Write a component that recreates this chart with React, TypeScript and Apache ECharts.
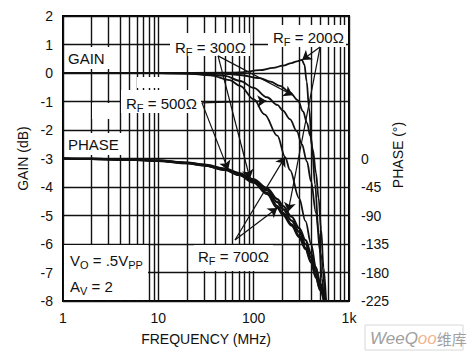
import React, { useEffect, useRef } from 'react';
import * as echarts from 'echarts';

// ---- axes ----
const freqMin = 1;
const freqMax = 1000;
const freqLabels: Record<number, string> = { 1: '1', 10: '10', 100: '100', 1000: '1k' };
const minorFreqLines = [2, 3, 4, 5, 6, 7, 8, 9, 20, 30, 40, 50, 60, 70, 80, 90, 200, 300, 400, 500, 600, 700, 800, 900];
const gainMin = -8;
const gainMax = 2;
const phaseMin = -225;
const phaseMax = 225;

// ---- gain curves (MHz, dB) ----
const gain200 = [[1, 0], [10, 0], [50, 0.01], [72, 0.02], [116, 0.1], [160, 0.18], [203, 0.26], [250, 0.35], [284, 0.41], [320, 0.46], [340, 0.3], [360, -0.3], [380, -1.2], [410, -2.6], [440, -3.9], [480, -5.6], [520, -7.2], [545, -8]];
const gain300 = [[1, 0], [10, 0], [30, -0.01], [50, -0.03], [72, -0.07], [116, -0.18], [150, -0.3], [189, -0.45], [240, -0.68], [290, -0.95], [330, -1.35], [362, -1.75], [392, -2.2], [418, -2.7], [450, -3.5], [480, -4.4], [510, -5.5], [540, -6.8], [575, -8]];
const gain500 = [[1, 0], [10, 0], [30, -0.03], [50, -0.1], [72, -0.28], [100, -0.52], [138, -0.85], [177, -1.12], [203, -1.32], [240, -1.62], [284, -2.05], [320, -2.5], [362, -3.1], [400, -3.8], [450, -4.9], [500, -6.3], [565, -8]];
const gain700 = [[1, 0], [10, 0], [20, -0.02], [35, -0.08], [56, -0.25], [72, -0.45], [100, -0.92], [130, -1.45], [177, -2.2], [214, -2.95], [240, -3.4], [300, -4.4], [350, -5.2], [400, -6.0], [450, -6.8], [500, -7.5], [550, -8]];

// ---- phase curves (MHz, degrees) ----
const phase200 = [[1, 0], [2, -0.6], [5, -1.6], [10, -3.2], [20, -6.5], [30, -9.7], [50, -15.8], [70, -23], [100, -33], [138, -47], [177, -64], [203, -75], [250, -92], [300, -110], [350, -129], [400, -150], [450, -174], [500, -198], [570, -225]];
const phase300 = [[1, 0], [2, -0.7], [5, -1.7], [10, -3.4], [20, -6.9], [30, -10.2], [50, -16.7], [70, -24.3], [100, -35], [138, -50], [177, -69], [203, -80], [250, -98], [300, -116], [350, -135], [400, -156], [450, -180], [500, -202], [560, -225]];
const phase500 = [[1, 0], [2, -0.7], [5, -1.8], [10, -3.6], [20, -7.3], [30, -10.7], [50, -17.5], [70, -25.5], [100, -37], [138, -54], [177, -75], [203, -86], [250, -104], [300, -122], [350, -141], [400, -162], [450, -186], [500, -207], [552, -225]];
const phase700 = [[1, 0], [2, -0.8], [5, -1.9], [10, -3.7], [20, -7.5], [30, -11], [50, -18], [70, -26], [100, -38], [138, -56], [177, -78], [203, -89], [250, -106], [300, -124], [350, -143], [400, -164], [450, -188], [500, -208], [545, -225]];

// ---- annotation arrows: [from, to] in data coordinates ----
const gainArrows = [
  [[42.3, 0.6], [257, -0.78]],   // RF = 300
  [[28.7, -1.05], [136, -0.98]], // RF = 500
  [[497, 0.91], [322, 0.46]],    // RF = 200
  [[63.7, -5.86], [213, -2.95]], // RF = 700
];
const phaseArrows = [
  [[42.3, 162], [91.5, -32]],    // RF = 300
  [[28.7, 87.8], [54, -18]],     // RF = 500
  [[497, 176], [230, -84]],      // RF = 200
  [[63.7, -128.7], [177, -78]],  // RF = 700
];

const FONT = '"Liberation Sans", Arial, Helvetica, sans-serif';
const INK = '#111';

function subLabel(main: string, sub: string, rest: string) {
  return `{r|${main}}{s|${sub}}{r|${rest}}`;
}

export default function App() {
  const ref = useRef<HTMLDivElement>(null);
  useEffect(() => {
    if (!ref.current) return;
    const chart = echarts.init(ref.current, undefined, { renderer: 'svg' });
    const rich = {
      r: { fontSize: 15, fontFamily: FONT, fill: INK, color: INK },
      s: { fontSize: 11, fontFamily: FONT, fill: INK, color: INK, padding: [9, 0, 0, 0] },
    };
    const whiteBox = (x: number, y: number, w: number, h: number) => ({
      type: 'rect', shape: { x, y, width: w, height: h }, style: { fill: '#fff' }, z: 1, silent: true,
    });
    const label = (x: number, y: number, text: string) => ({
      type: 'text', x, y, z: 6, silent: true,
      style: { text, rich, fontSize: 15, fontFamily: FONT, fill: INK, verticalAlign: 'middle', align: 'left' },
    });
    const curve = (name: string, data: number[][], yAxisIndex: number, width: number) => ({
      name, type: 'line', data, yAxisIndex, showSymbol: false, smooth: 0.35, smoothMonotone: 'x',
      lineStyle: { color: INK, width }, z: 3, silent: true,
    });
    const arrowLine = (arrows: number[][][]) => ({
      silent: true, symbol: ['none', 'arrow'], symbolSize: 9, z: 5,
      label: { show: false }, lineStyle: { color: INK, width: 1.2, type: 'solid' },
      data: arrows.map(([a, b]) => [{ coord: a }, { coord: b }]),
    });

    const s700 = curve('gain700', gain700, 0, 1.8) as any;
    s700.markLine = {
      silent: true, symbol: 'none', z: 0, label: { show: false },
      lineStyle: { color: INK, width: 1.4, type: 'solid' },
      data: minorFreqLines.map((v) => ({ xAxis: v })),
    };
    const s500 = curve('gain500', gain500, 0, 1.8) as any;
    s500.markLine = arrowLine(gainArrows);
    const p500 = curve('phase500', phase500, 1, 2.2) as any;
    p500.markLine = arrowLine(phaseArrows);

    chart.setOption({
      animation: false,
      backgroundColor: '#fff',
      grid: { left: 63, right: 120, top: 16, bottom: 54, show: true, borderColor: '#000', borderWidth: 2, backgroundColor: 'transparent' },
      xAxis: {
        type: 'log', logBase: 10, min: freqMin, max: freqMax,
        axisLine: { show: false }, axisTick: { show: false },
        splitLine: { show: true, lineStyle: { color: INK, width: 1.4 } },
        axisLabel: {
          margin: 10, fontSize: 14, color: INK, fontFamily: FONT,
          formatter: (v: number) => freqLabels[Math.round(v)] ?? '',
        },
        name: 'FREQUENCY (MHz)', nameLocation: 'middle', nameGap: 31,
        nameTextStyle: { fontSize: 14, color: INK, fontFamily: FONT },
      },
      yAxis: [
        {
          type: 'value', min: gainMin, max: gainMax, interval: 1,
          axisLine: { show: false }, axisTick: { show: false },
          splitLine: { show: true, lineStyle: { color: INK, width: 1.4 } },
          axisLabel: { margin: 10, fontSize: 14, color: INK, fontFamily: FONT },
          name: 'GAIN (dB)', nameLocation: 'middle', nameGap: 30, nameRotate: 90,
          nameTextStyle: { fontSize: 14, color: INK, fontFamily: FONT },
        },
        {
          type: 'value', min: phaseMin, max: phaseMax, interval: 45, position: 'right',
          axisLine: { show: false }, axisTick: { show: false }, splitLine: { show: false },
          axisLabel: {
            margin: 12, fontSize: 14, color: INK, fontFamily: FONT,
            formatter: (v: number) => (v <= 0 ? String(v) : ''),
          },
        },
      ],
      series: [
        curve('gain200', gain200, 0, 1.8),
        curve('gain300', gain300, 0, 1.8),
        s500,
        s700,
        curve('phase200', phase200, 1, 2.2),
        curve('phase300', phase300, 1, 2.2),
        p500,
        curve('phase700', phase700, 1, 2.2),
      ],
      graphic: [
        whiteBox(65, 47, 45, 22),
        whiteBox(65, 133, 57, 22),
        whiteBox(170, 33, 80, 23),
        whiteBox(268, 25, 78, 22),
        whiteBox(121, 90, 80, 23),
        whiteBox(194, 245, 79, 26),
        whiteBox(64, 245, 84, 55),
        whiteBox(92, 103, 21, 16),
        whiteBox(137, 77, 46, 11),
        label(68, 58.5, 'GAIN'),
        label(68, 144, 'PHASE'),
        label(175, 47, subLabel('R', 'F', ' = 300Ω')),
        label(273, 37, subLabel('R', 'F', ' = 200Ω')),
        label(126, 103, subLabel('R', 'F', ' = 500Ω')),
        label(198, 256, subLabel('R', 'F', ' = 700Ω')),
        label(70, 260, subLabel('V', 'O', ' = .5V') + '{s|PP}'),
        label(70, 286, subLabel('A', 'V', ' = 2')),
        {
          type: 'text', x: 398, y: 155, rotation: Math.PI / 2, z: 6, silent: true,
          style: { text: 'PHASE (°)', fontSize: 14, fontFamily: FONT, fill: INK, align: 'center', verticalAlign: 'middle' },
        },
        {
          type: 'rect', shape: { x: 365, y: 325, width: 98, height: 25 }, z: 1, silent: true,
          style: { fill: '#fff', stroke: '#d8d8d8', lineWidth: 1 },
        },
        {
          type: 'text', x: 370, y: 338, z: 6, silent: true,
          style: {
            text: '{g|WeeQ}{o|oo}{c|维库}', verticalAlign: 'middle', align: 'left',
            rich: {
              g: { fontSize: 17, fontStyle: 'italic', fontFamily: FONT, fill: '#a0a0a0', color: '#a0a0a0' },
              o: { fontSize: 17, fontStyle: 'italic', fontFamily: FONT, fill: '#f2b48e', color: '#f2b48e' },
              c: { fontSize: 15, fontFamily: '"Noto Sans CJK SC", sans-serif', fill: '#a0a0a0', color: '#a0a0a0' },
            },
          },
        },
      ],
    });
    return () => chart.dispose();
  }, []);
  return <div ref={ref} style={{ width: 469, height: 355, position: 'absolute', left: 0, top: 0 }} />;
}
